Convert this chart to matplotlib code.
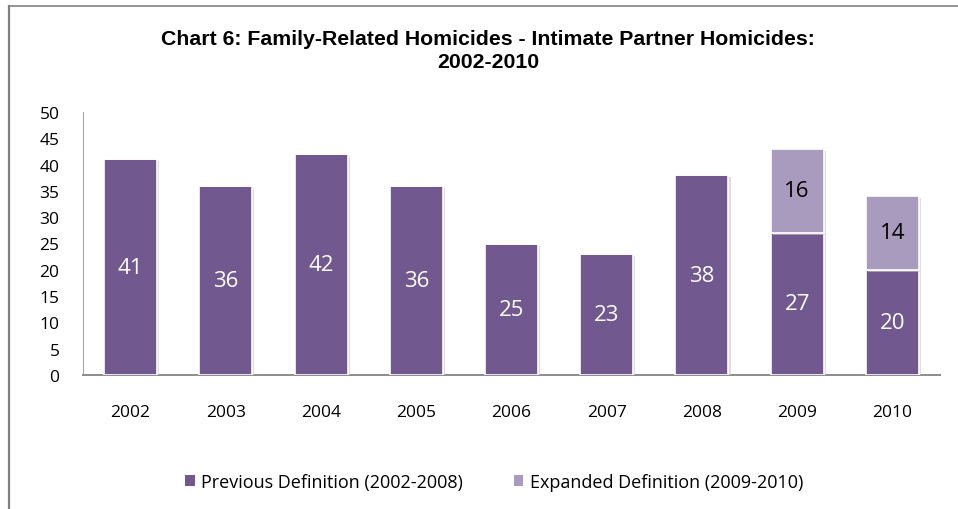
import matplotlib
matplotlib.use("Agg")
import matplotlib.pyplot as plt
import matplotlib.patheffects as pe
from matplotlib.lines import Line2D
from matplotlib.patches import Patch

years = ["2002", "2003", "2004", "2005", "2006", "2007", "2008", "2009", "2010"]
previous = [41, 36, 42, 36, 25, 23, 38, 27, 20]
expanded = [0, 0, 0, 0, 0, 0, 0, 16, 14]

title = "Chart 6: Family-Related Homicides - Intimate Partner Homicides:\n2002-2010"
label_prev = "Previous Definition (2002-2008)"
label_exp = "Expanded Definition (2009-2010)"

c_prev = "#71588F"
c_exp = "#A99BBD"

W, H = 958, 510
fig = plt.figure(figsize=(W / 100, H / 100), dpi=100)
ax = fig.add_axes([83 / W, 1 - 376 / H, 857 / W, 263 / H])

x = list(range(len(years)))
shadow = [pe.SimplePatchShadow(offset=(1.5, -1.5), shadow_rgbFace="#c8c8c8", alpha=0.6), pe.Normal()]
b1 = ax.bar(x, previous, width=0.557, color=c_prev, edgecolor="white", linewidth=1.2, zorder=3)
b2 = ax.bar(x, expanded, width=0.557, bottom=previous, color=c_exp, edgecolor="white", linewidth=1.2, zorder=3)
for r in list(b1) + list(b2):
    r.set_path_effects(shadow)

lblfont = "Open Sans"
for i in x:
    ax.text(i, previous[i] / 2, str(previous[i]), ha="center", va="center",
            color="white", fontsize=16, family=lblfont, zorder=4)
    if expanded[i]:
        ax.text(i, previous[i] + expanded[i] / 2, str(expanded[i]), ha="center", va="center",
                color="black", fontsize=16, family=lblfont, zorder=4)

ax.set_xlim(-0.5, 8.5)
ax.set_ylim(0, 50)
ax.set_yticks(range(0, 51, 5))
ax.set_xticks(x)
ax.set_xticklabels(years)
for t in ax.get_xticklabels() + ax.get_yticklabels():
    t.set_family(lblfont)
    t.set_fontsize(12.5)
ax.tick_params(axis="both", length=0)
ax.tick_params(axis="x", pad=21)
ax.tick_params(axis="y", pad=17)
for s in ["top", "right"]:
    ax.spines[s].set_visible(False)
ax.spines["left"].set_color("#a6a6a6")
ax.spines["bottom"].set_color("#8c8c8c")
ax.spines["bottom"].set_linewidth(1.4)

fig.text(488 / W, 1 - 51 / H, title, ha="center", va="center", fontsize=15.3, fontweight="bold",
         family=["Liberation Sans", "DejaVu Sans"], linespacing=1.3)

handles = [Patch(facecolor=c_prev, label=label_prev), Patch(facecolor=c_exp, label=label_exp)]
fig.legend(handles=handles, loc="center", bbox_to_anchor=(494 / W, 1 - 483 / H), ncol=2, frameon=False,
           prop={"family": lblfont, "size": 13}, handlelength=0.55, handleheight=0.55,
           handletextpad=0.35, columnspacing=2.8)

fig.add_artist(Line2D([9 / W, 9 / W], [0, 1 - 7 / H], transform=fig.transFigure, color="#808080", lw=1.6))
fig.add_artist(Line2D([9 / W, 1], [1 - 7 / H, 1 - 7 / H], transform=fig.transFigure, color="#808080", lw=1.2))

fig.savefig("out.png", dpi=100)
